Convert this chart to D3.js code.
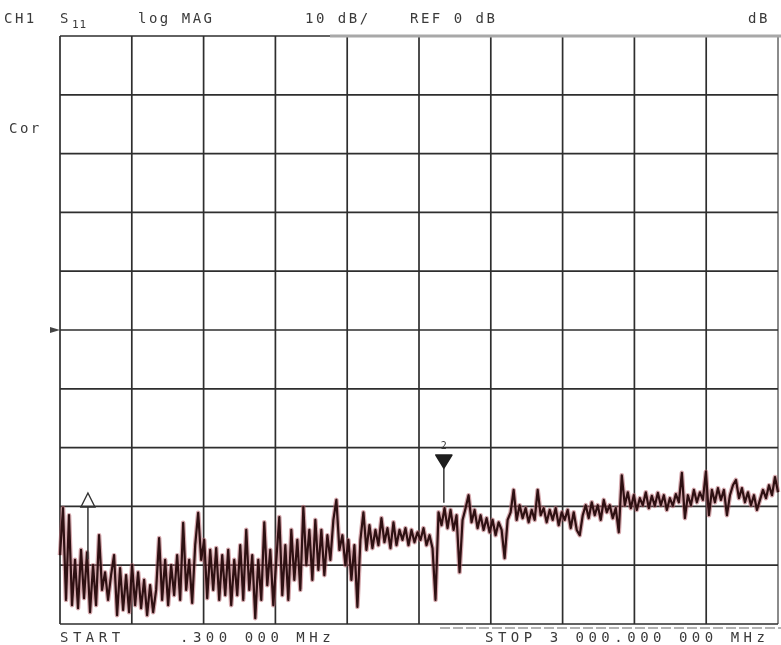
<!DOCTYPE html>
<html>
<head>
<meta charset="utf-8">
<script src="https://cdn.jsdelivr.net/npm/d3@7"></script>
<style>
  body { margin: 0; background: #fff; }
  svg { display: block; filter: blur(0.35px); }
  text { font-family: "DejaVu Sans Mono", "Liberation Mono", monospace; fill: #3a3a3a; }
</style>
</head>
<body>
<div id="chart"></div>
<script>
// sweep settings (from the screen annotations)
const startMHz = 0.3;
const stopMHz = 3000;
const refDb = 0;
const dbPerDiv = 10;
const divisions = 10;

// header / footer annotations
const headerItems = [
    { text: "CH1", x: 4 },
    { text: "S", x: 60 },
    { text: "log MAG", x: 138 },
    { text: "10 dB/", x: 305 },
    { text: "REF 0 dB", x: 410 },
    { text: "dB", x: 748 }
];
const footerItems = [
    { text: "START", x: 60 },
    { text: ".300 000 MHz", x: 180 },
    { text: "STOP 3 000.000 000 MHz", x: 485 }
];

// S11 magnitude (dB), evenly spaced sweep points
const s11Db = [
    -38.3, -30.3, -45.9, -31.5, -46.8, -39.1, -47.3, -37.4, -45.6, -37.8,
    -48.0, -40.0, -46.8, -34.9, -44.2, -41.2, -45.9, -41.7, -38.3, -48.5,
    -40.5, -47.6, -41.7, -48.0, -40.0, -46.8, -41.2, -47.3, -42.5, -48.5,
    -43.4, -48.0, -44.2, -35.4, -45.9, -39.1, -46.8, -40.0, -45.1, -38.3,
    -45.9, -32.8, -44.2, -39.1, -46.4, -36.6, -31.1, -39.1, -35.7, -45.6,
    -37.4, -44.2, -37.1, -45.9, -38.3, -45.1, -37.4, -46.8, -39.1, -45.1,
    -36.6, -45.9, -34.0, -44.2, -38.3, -49.0, -39.1, -45.9, -32.7, -43.4,
    -37.4, -46.8, -39.1, -31.8, -45.1, -36.6, -45.9, -34.0, -42.5, -35.7,
    -44.2, -30.1, -40.0, -34.0, -42.5, -32.3, -40.8, -34.0, -41.7, -34.9,
    -39.1, -32.3, -28.9, -37.4, -34.9, -40.0, -35.7, -42.5, -36.6, -47.1,
    -35.7, -31.0, -37.4, -33.2, -37.1, -34.0, -36.6, -32.0, -36.1, -33.7,
    -37.1, -32.7, -36.6, -34.0, -35.7, -33.7, -36.6, -34.0, -36.1, -34.4,
    -35.7, -33.7, -36.6, -34.9, -37.1, -45.9, -31.0, -33.2, -30.3, -33.7,
    -30.6, -34.0, -31.5, -41.2, -32.3, -30.3, -28.1, -32.7, -30.6, -33.7,
    -31.5, -34.0, -32.0, -34.4, -32.3, -34.9, -32.7, -34.0, -38.8, -32.3,
    -31.0, -27.2, -32.3, -29.8, -32.0, -30.3, -32.7, -30.6, -32.3, -27.2,
    -31.5, -30.3, -32.7, -30.6, -32.3, -30.3, -33.2, -31.0, -32.3, -30.6,
    -33.7, -31.0, -34.0, -34.9, -31.5, -29.8, -32.0, -29.3, -31.5, -29.8,
    -32.3, -28.9, -31.0, -29.8, -32.0, -30.3, -34.4, -24.7, -29.8, -27.6,
    -30.3, -28.1, -30.6, -28.6, -29.8, -27.6, -30.3, -28.2, -29.9, -27.7,
    -29.8, -28.1, -30.6, -28.6, -29.9, -27.9, -29.3, -24.3, -32.0, -28.1,
    -29.8, -27.2, -29.3, -27.6, -28.9, -24.1, -31.5, -27.2, -29.3, -26.9,
    -28.9, -27.2, -31.5, -28.1, -26.4, -25.5, -28.6, -26.9, -29.3, -27.6,
    -29.8, -28.1, -30.6, -28.9, -27.2, -28.6, -26.4, -28.1, -25.0, -27.6
];

// markers: frequency (MHz) and level (dB)
const markers = [
    { id: "1", freq: 117, db: -39.0, style: "open" },
    { id: "2", freq: 1604, db: -29.4, style: "filled" }
];

const width = 781, height = 645;
const grid = { left: 60, right: 778, top: 36, bottom: 624 };

const svg = d3.select("#chart").append("svg")
    .attr("width", width)
    .attr("height", height);

const x = d3.scaleLinear()
    .domain([startMHz, stopMHz])
    .range([grid.left, grid.right]);

const y = d3.scaleLinear()
    .domain([refDb - dbPerDiv * divisions / 2, refDb + dbPerDiv * divisions / 2])
    .range([grid.bottom, grid.top]);

const span = stopMHz - startMHz;
const xTicks = d3.range(divisions + 1).map(k => startMHz + k * span / divisions);
const yTicks = d3.range(divisions + 1).map(k => y.domain()[0] + k * dbPerDiv);

// graticule
const gridG = svg.append("g");
gridG.selectAll(".vline")
    .data(xTicks)
    .enter().append("line")
    .attr("x1", d => x(d)).attr("x2", d => x(d))
    .attr("y1", grid.top).attr("y2", grid.bottom)
    .attr("stroke", (d, i) => i === divisions ? "#777" : "#2e2e2e")
    .attr("stroke-width", 1.7);

gridG.selectAll(".hline")
    .data(yTicks)
    .enter().append("line")
    .attr("x1", grid.left).attr("x2", grid.right)
    .attr("y1", d => y(d)).attr("y2", d => y(d))
    .attr("stroke", "#2e2e2e")
    .attr("stroke-width", 1.7);

// top border: right part is lighter and thicker on the print
svg.append("line")
    .attr("x1", 330).attr("x2", width)
    .attr("y1", y(y.domain()[1])).attr("y2", y(y.domain()[1]))
    .attr("stroke", "#a8a8a8")
    .attr("stroke-width", 3.2);

// faint dashed line below the bottom border
svg.append("line")
    .attr("x1", 440).attr("x2", width)
    .attr("y1", grid.bottom + 4).attr("y2", grid.bottom + 4)
    .attr("stroke", "#9a9a9a")
    .attr("stroke-width", 1.4)
    .attr("stroke-dasharray", "10 3");

// reference position marker at left
svg.append("path")
    .attr("d", d3.line()([[grid.left - 10, y(refDb) - 3], [grid.left, y(refDb)], [grid.left - 10, y(refDb) + 3]]))
    .attr("fill", "#444");

// trace
const traceData = s11Db.map((v, i) => ({
    f: startMHz + i * span / (s11Db.length - 1),
    db: v
}));

const line = d3.line()
    .x(d => x(d.f))
    .y(d => y(d.db));

svg.append("path")
    .datum(traceData)
    .attr("fill", "none")
    .attr("stroke", "#b0606a")
    .attr("stroke-opacity", 0.55)
    .attr("stroke-width", 4.6)
    .attr("stroke-linejoin", "round")
    .attr("d", line);

svg.append("path")
    .datum(traceData)
    .attr("fill", "none")
    .attr("stroke", "#2e1012")
    .attr("stroke-width", 2.2)
    .attr("stroke-linejoin", "round")
    .attr("d", line);

// markers
markers.forEach(m => {
    const mx = x(m.freq);
    const tipY = m.style === "open" ? 507 : 468;
    svg.append("line")
        .attr("x1", mx).attr("x2", mx)
        .attr("y1", tipY).attr("y2", y(m.db))
        .attr("stroke", "#333")
        .attr("stroke-width", 1.5);
    if (m.style === "open") {
        svg.append("path")
            .attr("d", `M${mx - 7},${tipY} L${mx},${tipY - 14} L${mx + 7},${tipY} Z`)
            .attr("fill", "none")
            .attr("stroke", "#333")
            .attr("stroke-width", 1.4);
    } else {
        svg.append("path")
            .attr("d", `M${mx - 8},${tipY - 13} L${mx + 8},${tipY - 13} L${mx},${tipY} Z`)
            .attr("fill", "#1e1e1e")
            .attr("stroke", "#1e1e1e")
            .attr("stroke-width", 1.6)
            .attr("stroke-linejoin", "round");
        svg.append("text")
            .attr("x", mx)
            .attr("y", tipY - 19)
            .attr("text-anchor", "middle")
            .style("font-size", "10px")
            .text(m.id);
    }
});

// header text
svg.selectAll(".hdr")
    .data(headerItems)
    .enter().append("text")
    .attr("x", d => d.x)
    .attr("y", 23)
    .style("font-size", "14px")
    .style("letter-spacing", "2.5px")
    .text(d => d.text);

svg.append("text")
    .attr("x", 72)
    .attr("y", 28)
    .style("font-size", "11px")
    .style("letter-spacing", "1px")
    .text("11");

svg.append("text")
    .attr("x", 9)
    .attr("y", 133)
    .style("font-size", "14px")
    .style("letter-spacing", "2.5px")
    .text("Cor");

// footer text
svg.selectAll(".ftr")
    .data(footerItems)
    .enter().append("text")
    .attr("x", d => d.x)
    .attr("y", 642)
    .style("font-size", "14px")
    .style("letter-spacing", "4.5px")
    .text(d => d.text);
</script>
</body>
</html>
